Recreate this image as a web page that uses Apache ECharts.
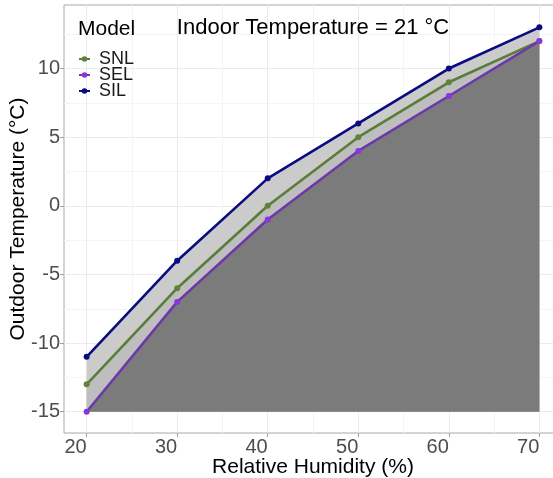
<!DOCTYPE html>
<html>
<head>
<meta charset="utf-8">
<script src="https://cdn.jsdelivr.net/npm/echarts@6/dist/echarts.min.js"></script>
<style>
  html, body { margin: 0; padding: 0; background: #ffffff; }
  #chart { width: 553px; height: 478px; }
</style>
</head>
<body>
<div id="chart"></div>
<script>
// ---- data ----
const humidity = [20, 30, 40, 50, 60, 70];
const silValues = [-11, -4, 2, 6, 10, 13];
const snlValues = [-13, -6, 0, 5, 9, 12];
const selValues = [-15, -7, -1, 4, 8, 12];
const modelNames = ['SNL', 'SEL', 'SIL'];
const xTickValues = [20, 30, 40, 50, 60, 70];
const xMinorValues = [25, 35, 45, 55, 65];
const yTickValues = [-15, -10, -5, 0, 5, 10];
const yMinorValues = [-12.5, -7.5, -2.5, 2.5, 7.5, 12.5];
const areaFloor = -15;
const titleText = 'Indoor Temperature = 21 °C';
const legendTitle = 'Model';
const xName = 'Relative Humidity (%)';
const yName = 'Outdoor Temperature (°C)';

const pairs = vals => humidity.map((h, i) => [h, vals[i]]);

const colors = { SNL: '#5f8339', SEL: '#8a35e0', SIL: '#0b0b80' };
const lineColors = { SNL: '#5b7d3a', SEL: '#6c38ab', SIL: '#0b0b80' };

const X_MIN = 17.5, X_MAX = 72.5, Y_MIN = -16.55, Y_MAX = 14.63;
const FONT = 'Liberation Sans, Arial, sans-serif';

const chart = echarts.init(document.getElementById('chart'), null, { renderer: 'canvas' });

function areaSeries(name, vals, color, z) {
  return {
    name: name, type: 'line', data: pairs(vals),
    xAxisIndex: 0, yAxisIndex: 0,
    symbol: 'none', lineStyle: { width: 0, opacity: 0 },
    areaStyle: { color: color, opacity: 1, origin: areaFloor },
    z: z, silent: true, animation: false, legendHoverLink: false
  };
}
function lineSeries(name, vals) {
  return {
    name: name, type: 'line', data: pairs(vals),
    xAxisIndex: 0, yAxisIndex: 0,
    symbol: 'circle', symbolSize: 6,
    itemStyle: { color: colors[name] },
    lineStyle: { color: lineColors[name], width: 2.6 },
    z: 5, animation: false
  };
}

const option = {
  backgroundColor: '#ffffff',
  animation: false,
  grid: {
    left: 64, right: -9, top: 5, bottom: 45,
    outerBoundsMode: 'none', containLabel: false,
    show: true, backgroundColor: '#ffffff',
    borderColor: '#a8a8a8', borderWidth: 1
  },
  xAxis: [
    {
      type: 'value', min: X_MIN, max: X_MAX, position: 'bottom',
      name: xName, nameLocation: 'middle', nameGap: 24, nameMoveOverlap: false,
      nameTextStyle: { fontSize: 21, color: '#000000', fontFamily: FONT, verticalAlign: 'top' },
      axisLine: { show: false, onZero: false },
      axisTick: { show: true, length: 4, lineStyle: { color: '#a0a0a0' }, customValues: xTickValues },
      axisLabel: { customValues: xTickValues, fontSize: 20, color: '#4d4d4d', margin: 4, align: 'right',
                   fontFamily: FONT },
      splitLine: { show: true, lineStyle: { color: '#ebebeb', width: 1 } }
    },
    {
      type: 'value', min: X_MIN, max: X_MAX, gridIndex: 0, position: 'bottom',
      axisLine: { show: false, onZero: false },
      axisTick: { show: false, customValues: xMinorValues },
      axisLabel: { show: false, customValues: xMinorValues },
      splitLine: { show: true, lineStyle: { color: '#f4f4f4', width: 1 } }
    }
  ],
  yAxis: [
    {
      type: 'value', min: Y_MIN, max: Y_MAX, position: 'left',
      name: yName, nameLocation: 'middle', nameGap: 35, nameMoveOverlap: false,
      nameTextStyle: { fontSize: 21, color: '#000000', fontFamily: FONT },
      axisLine: { show: false, onZero: false },
      axisTick: { show: true, length: 4, lineStyle: { color: '#a0a0a0' }, customValues: yTickValues },
      axisLabel: { customValues: yTickValues, fontSize: 20, color: '#4d4d4d', margin: 4, fontFamily: FONT },
      splitLine: { show: true, lineStyle: { color: '#ebebeb', width: 1 } }
    },
    {
      type: 'value', min: Y_MIN, max: Y_MAX, gridIndex: 0, position: 'left',
      axisLine: { show: false, onZero: false },
      axisTick: { show: false, customValues: yMinorValues },
      axisLabel: { show: false, customValues: yMinorValues },
      splitLine: { show: true, lineStyle: { color: '#f4f4f4', width: 1 } }
    }
  ],
  legend: {
    data: modelNames,
    orient: 'vertical',
    left: 78, top: 50,
    padding: 0,
    itemWidth: 11, itemHeight: 7, itemGap: -2,
    textStyle: { fontSize: 18, color: '#1a1a1a', padding: [0, 0, 0, 4], fontFamily: FONT },
    selectedMode: false
  },
  graphic: [
    { type: 'text', x: 313, y: 28, z: 100,
      style: { text: titleText, fill: '#000000', fontSize: 22, textAlign: 'center', textVerticalAlign: 'middle',
               fontFamily: FONT } },
    { type: 'text', x: 78, y: 29, z: 100,
      style: { text: legendTitle, fill: '#000000', fontSize: 21, textAlign: 'left', textVerticalAlign: 'middle',
               fontFamily: FONT } }
  ],
  series: [
    areaSeries('band-SIL', silValues, '#cbcbcb', 1),
    areaSeries('band-SNL', snlValues, '#bebebe', 2),
    areaSeries('band-SEL', selValues, '#7b7b7b', 3),
    lineSeries('SNL', snlValues),
    lineSeries('SEL', selValues),
    lineSeries('SIL', silValues)
  ]
};
chart.setOption(option);
</script>
</body>
</html>
